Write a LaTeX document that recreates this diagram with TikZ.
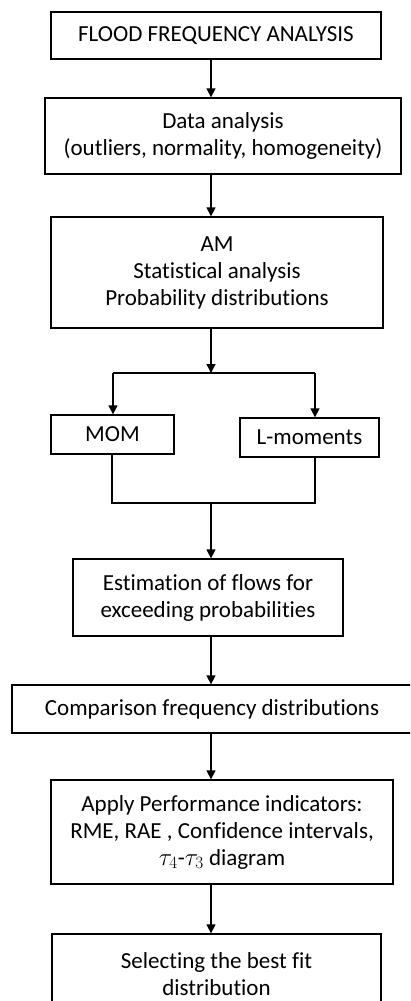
\documentclass[tikz,border=0pt]{standalone}
\usepackage{fontspec}
\setmainfont{Carlito}[Ligatures={NoCommon}]
\usepackage{tikz}
\usetikzlibrary{arrows.meta}

\begin{document}
\begin{tikzpicture}[>={Triangle[length=9pt,width=9pt]},x=1pt,y=-1pt,line width=1.3pt,
  box/.style={draw,align=center,inner sep=0pt,font=\fontsize{23}{27}\selectfont}]
\clip (0,0) rectangle (410,1001);
\node[box,minimum width=330pt,minimum height=47pt] (flood) at (216,35.5) {FLOOD FREQUENCY ANALYSIS};
\node[box,minimum width=356pt,minimum height=76pt] (data) at (223,136) {Data analysis\\(outliers, normality, homogeneity)};
\node[box,minimum width=332pt,minimum height=111pt] (am) at (217,272.5) {AM\\Statistical analysis\\Probability distributions};
\node[box,minimum width=123pt,minimum height=39pt] (mom) at (112.5,434.5) {MOM};
\node[box,minimum width=139pt,minimum height=39pt] (lmom) at (309.5,437.5) {L-moments};
\node[box,minimum width=270pt,minimum height=77pt] (est) at (208,597.5) {Estimation of flows for\\exceeding probabilities};
\node[box,minimum width=400pt,minimum height=48pt] (comp) at (212,709) {Comparison frequency distributions};
\node[box,minimum width=342pt,minimum height=104pt] (apply) at (222,832) {Apply Performance indicators:\\RME, RAE , Confidence intervals,\\$\tau_4$-$\tau_3$ diagram};
\node[box,minimum width=329pt,minimum height=80pt] (sel) at (216.5,974) {Selecting the best fit\\distribution};
\coordinate (spine) at (211,0);
\coordinate (split) at (211,373);
\coordinate (splitL) at (113,373);
\coordinate (splitR) at (315,373);
\coordinate (join) at (211,503);
\coordinate (joinL) at (112,503);
\coordinate (joinR) at (315,503);
\draw[->] (flood.south -| spine) -- (data.north -| spine);
\draw[->] (data.south -| spine) -- (am.north -| spine);
\draw[->] (am.south -| split) -- (split);
\draw (splitL) -- (splitR);
\draw[->] (splitL) -- (splitL |- mom.north);
\draw[->] (splitR) -- (splitR |- lmom.north);
\draw (mom.south -| joinL) -- (joinL) -- (joinR) -- (lmom.south -| joinR);
\draw[->] (join) -- (est.north -| join);
\draw[->] (est.south -| spine) -- (comp.north -| spine);
\draw[->] (comp.south -| spine) -- (apply.north -| spine);
\draw[->] (apply.south -| spine) -- (sel.north -| spine);
\end{tikzpicture}
\end{document}
